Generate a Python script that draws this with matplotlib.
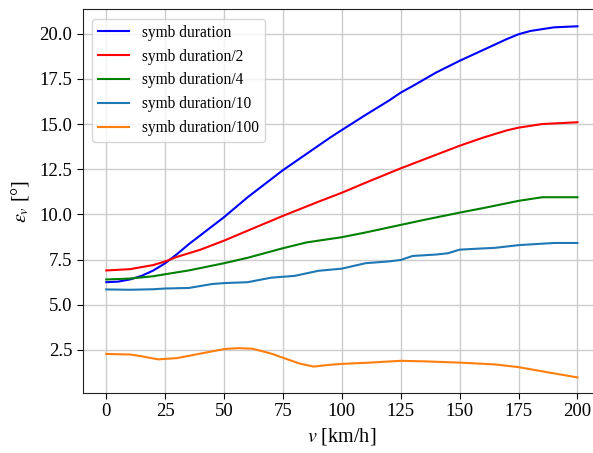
import matplotlib
matplotlib.use('Agg')
import matplotlib.pyplot as plt

plt.rcParams['font.family'] = ['Liberation Serif', 'DejaVu Serif']
plt.rcParams['mathtext.fontset'] = 'stix'

# speed [km/h] and pointing error [deg]
v_full = [0, 5, 10, 15, 20, 25, 30, 35, 40, 45, 50, 55, 60, 65, 70, 75, 80, 85, 90, 95,
          100, 110, 120, 125, 130, 140, 150, 160, 170, 175, 180, 190, 200]
e_full = [6.25, 6.28, 6.4, 6.6, 6.9, 7.3, 7.8, 8.35, 8.85, 9.35, 9.85, 10.4, 10.95, 11.45,
          11.95, 12.45, 12.9, 13.35, 13.8, 14.25, 14.67, 15.5, 16.3, 16.74, 17.1, 17.85,
          18.5, 19.1, 19.7, 19.97, 20.15, 20.35, 20.41]

v_half = [0, 10, 20, 25, 30, 40, 50, 60, 75, 90, 100, 110, 125, 140, 150, 160, 170, 175, 185, 200]
e_half = [6.9, 6.97, 7.2, 7.4, 7.65, 8.05, 8.55, 9.1, 9.92, 10.7, 11.2, 11.75, 12.55, 13.3,
          13.8, 14.25, 14.65, 14.8, 15.0, 15.1]

v_quart = [0, 10, 20, 25, 35, 50, 60, 75, 85, 100, 110, 125, 135, 150, 160, 175, 185, 200]
e_quart = [6.4, 6.45, 6.58, 6.69, 6.9, 7.3, 7.6, 8.13, 8.45, 8.74, 9.0, 9.42, 9.7, 10.1,
           10.35, 10.75, 10.95, 10.95]

v_tenth = [0, 10, 20, 25, 35, 45, 50, 60, 70, 80, 90, 100, 110, 120, 125, 130, 140, 145,
           150, 160, 165, 175, 190, 200]
e_tenth = [5.85, 5.83, 5.86, 5.9, 5.93, 6.15, 6.2, 6.25, 6.5, 6.6, 6.88, 7.0, 7.3, 7.4,
           7.48, 7.7, 7.78, 7.85, 8.05, 8.12, 8.15, 8.3, 8.42, 8.42]

v_cent = [0, 10, 15, 22, 30, 40, 50, 56, 62, 70, 75, 82, 88, 95, 100, 112, 125, 135, 150,
          165, 175, 188, 200]
e_cent = [2.28, 2.25, 2.15, 1.98, 2.05, 2.3, 2.55, 2.6, 2.57, 2.3, 2.07, 1.75, 1.58, 1.68,
          1.73, 1.8, 1.9, 1.87, 1.8, 1.7, 1.55, 1.25, 0.98]

labels = ['symb duration', 'symb duration/2', 'symb duration/4',
          'symb duration/10', 'symb duration/100']
colors = ['blue', 'red', 'green', 'tab:blue', 'tab:orange']
series = [(v_full, e_full), (v_half, e_half), (v_quart, e_quart),
          (v_tenth, e_tenth), (v_cent, e_cent)]

fig = plt.figure(figsize=(5.93, 4.53), dpi=100)
ax = fig.add_axes([0.1395, 0.1325, 0.874, 0.847])
for (x, y), lab, c in zip(series, labels, colors):
    ax.plot(x, y, color=c, lw=1.5, label=lab)

ax.set_xlim(-10, 210)
ax.set_ylim(0.12, 21.35)
ax.set_xticks(range(0, 201, 25))
ax.set_yticks([2.5, 5.0, 7.5, 10.0, 12.5, 15.0, 17.5, 20.0])
ax.grid(True, color='#cccccc', lw=1)
ax.set_axisbelow(True)
ax.tick_params(labelsize=13.5, direction='out', length=4)
for s in ax.spines.values():
    s.set_color('#222222')
ax.set_xlabel('$v$ [km/h]', fontsize=14.5)
ax.set_ylabel(r'$\epsilon_v$ [°]', fontsize=14.5, labelpad=6)
ax.legend(loc='upper left', fontsize=11.2, framealpha=0.8, edgecolor='#cccccc',
          handlelength=2.0, borderaxespad=0.6)

fig.savefig('out.png', dpi=100)
